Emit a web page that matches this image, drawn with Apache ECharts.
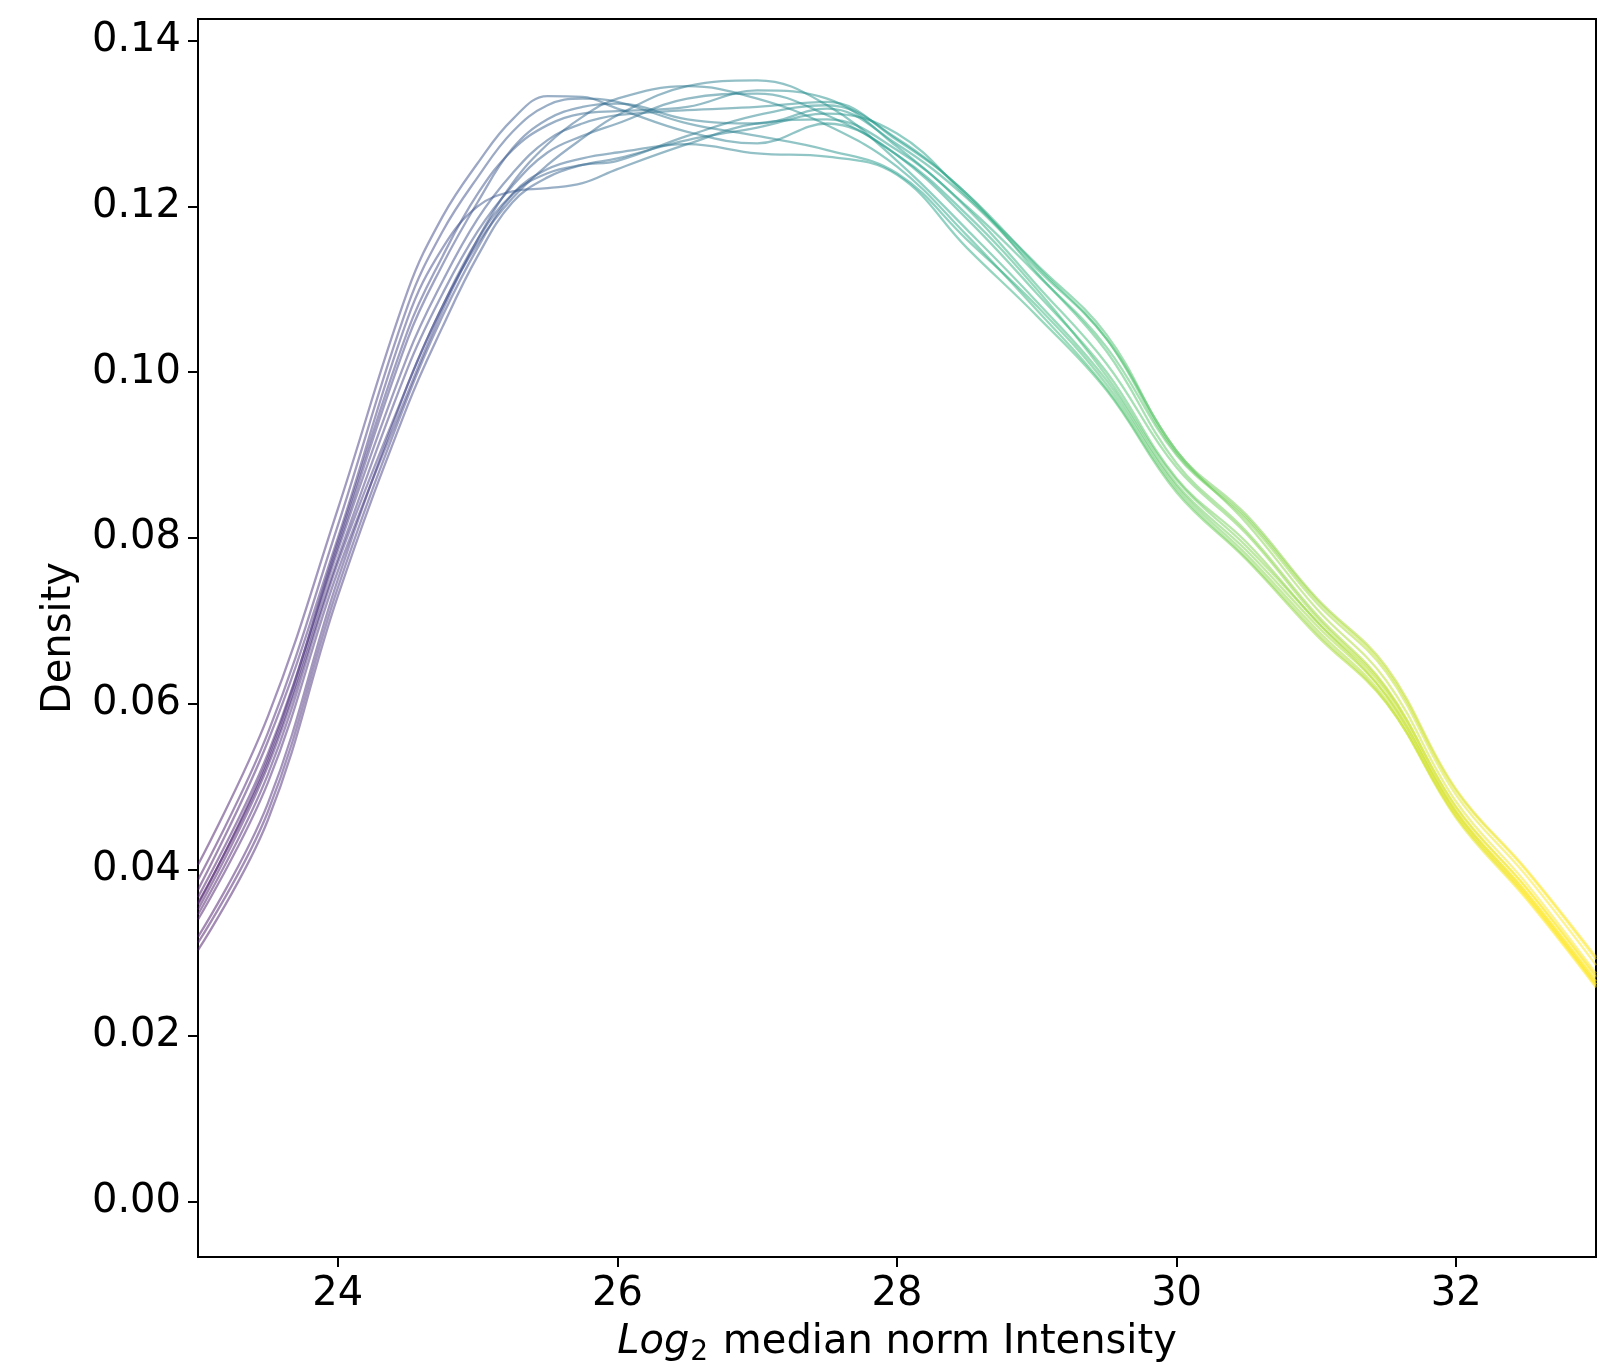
<!DOCTYPE html>
<html>
<head>
<meta charset="utf-8">
<script src="https://cdn.jsdelivr.net/npm/echarts@6/dist/echarts.min.js"></script>
<style>
html,body{margin:0;padding:0;background:#fff;}
#chart{width:1597px;height:1370px;}
</style>
</head>
<body>
<div id="chart"></div>
<script>
// ---- data ----
var xGrid = [23,23.5,24,24.5,24.75,25,25.25,25.5,25.75,26,26.5,27,27.5,28,28.5,29,29.5,30,30.5,31,31.5,32,32.5,33];
var sample01 = [0.0406,0.0585,0.0835,0.1098,0.1188,0.1252,0.1305,0.1333,0.1332,0.1318,0.1290,0.1276,0.1300,0.1262,0.1190,0.1100,0.0995,0.0870,0.0790,0.0700,0.0610,0.0470,0.0373,0.0265];
var sample02 = [0.0388,0.0565,0.0815,0.1080,0.1170,0.1235,0.1290,0.1322,0.1330,0.1326,0.1300,0.1285,0.1268,0.1240,0.1160,0.1080,0.0985,0.0862,0.0780,0.0690,0.0605,0.0465,0.0369,0.0262];
var sample03 = [0.0376,0.0555,0.0800,0.1065,0.1150,0.1200,0.1218,0.1222,0.1228,0.1245,0.1275,0.1300,0.1305,0.1268,0.1200,0.1118,0.1030,0.0900,0.0822,0.0722,0.0638,0.0490,0.0393,0.0285];
var sample04 = [0.0367,0.0540,0.0790,0.1040,0.1130,0.1205,0.1270,0.1305,0.1320,0.1324,0.1305,0.1300,0.1318,0.1275,0.1210,0.1125,0.1040,0.0905,0.0818,0.0715,0.0628,0.0482,0.0384,0.0275];
var sample05 = [0.0360,0.0530,0.0785,0.1020,0.1110,0.1185,0.1240,0.1280,0.1300,0.1310,0.1316,0.1320,0.1326,0.1280,0.1215,0.1120,0.1025,0.0890,0.0808,0.0708,0.0620,0.0475,0.0378,0.0270];
var sample06 = [0.0352,0.0525,0.0775,0.1005,0.1095,0.1170,0.1225,0.1265,0.1285,0.1300,0.1330,0.1336,0.1310,0.1262,0.1185,0.1095,0.1000,0.0872,0.0795,0.0700,0.0615,0.0470,0.0373,0.0266];
var sample07 = [0.0346,0.0515,0.0770,0.0985,0.1080,0.1155,0.1210,0.1250,0.1282,0.1310,0.1345,0.1352,0.1322,0.1255,0.1172,0.1085,0.0990,0.0865,0.0785,0.0695,0.0610,0.0468,0.0370,0.0262];
var sample08 = [0.0340,0.0505,0.0760,0.0975,0.1075,0.1160,0.1228,0.1275,0.1308,0.1330,0.1345,0.1330,0.1298,0.1248,0.1165,0.1075,0.0980,0.0858,0.0776,0.0686,0.0602,0.0462,0.0365,0.0258];
var sample09 = [0.0319,0.0480,0.0750,0.0985,0.1080,0.1160,0.1215,0.1240,0.1250,0.1255,0.1285,0.1310,0.1322,0.1282,0.1215,0.1128,0.1040,0.0902,0.0825,0.0726,0.0642,0.0495,0.0399,0.0292];
var sample10 = [0.0312,0.0470,0.0740,0.0970,0.1068,0.1150,0.1215,0.1245,0.1258,0.1265,0.1275,0.1264,0.1260,0.1238,0.1150,0.1068,0.0978,0.0855,0.0774,0.0683,0.0601,0.0464,0.0367,0.0260];
var sample11 = [0.0303,0.0460,0.0730,0.0960,0.1055,0.1140,0.1205,0.1235,0.1250,0.1258,0.1280,0.1295,0.1312,0.1288,0.1212,0.1130,0.1045,0.0905,0.0828,0.0728,0.0645,0.0497,0.0401,0.0295];
var sample12 = [0.0358,0.0535,0.0795,0.1050,0.1140,0.1215,0.1268,0.1298,0.1312,0.1315,0.1320,0.1340,0.1330,0.1272,0.1198,0.1105,0.1010,0.0885,0.0805,0.0705,0.0618,0.0476,0.0379,0.0272];
var xTicks = [24,26,28,30,32];
var yTicks = [0,0.02,0.04,0.06,0.08,0.10,0.12,0.14];
var xName = '{it|Log}{sub|2} median norm Intensity';
var yName = 'Density';

var samples = [sample01,sample02,sample03,sample04,sample05,sample06,sample07,sample08,sample09,sample10,sample11,sample12];
var viridis = ['#440154','#482878','#3e4989','#31688e','#26828e','#1f9e89','#35b779','#6ece58','#b5de2b','#fde725'];

var FONT = 'DejaVu Sans';
var FS = 40;

var series = samples.map(function(s){
  return {
    type:'line',
    data: xGrid.map(function(x,i){return [x, s[i]];}),
    smooth: 0.4,
    showSymbol:false,
    symbol:'none',
    lineStyle:{width:2.3, opacity:0.5},
    silent:true,
    animation:false
  };
});

var chart = echarts.init(document.getElementById('chart'), null, {renderer:'canvas'});
chart.setOption({
  animation:false,
  backgroundColor:'#ffffff',
  grid:{left:198, right:1, top:19, bottom:113, containLabel:false, outerBoundsMode:'none',
        show:true, borderColor:'#000', borderWidth:2, backgroundColor:'transparent'},
  visualMap:{show:false, type:'continuous', dimension:0, min:22.5, max:32.5, inRange:{color:viridis}},
  xAxis:{
    type:'value', min:23, max:33,
    axisLine:{show:true, onZero:false, lineStyle:{color:'#000', width:2}},
    axisTick:{show:true, length:10, lineStyle:{color:'#000', width:2}, customValues:xTicks},
    axisLabel:{show:true, margin:18, color:'#000', fontFamily:FONT, fontSize:FS, customValues:xTicks},
    splitLine:{show:false},
    name:xName, nameLocation:'middle', nameGap:62,
    nameTextStyle:{color:'#000', fontFamily:FONT, fontSize:FS,
      rich:{
        it:{fontStyle:'italic', fontFamily:FONT, fontSize:FS, color:'#000'},
        sub:{fontFamily:FONT, fontSize:28, color:'#000', padding:[20,2,0,1]}
      }}
  },
  yAxis:{
    type:'value', min:-0.0067, max:0.1426,
    axisLine:{show:true, onZero:false, lineStyle:{color:'#000', width:2}},
    axisTick:{show:true, length:10, lineStyle:{color:'#000', width:2}, customValues:yTicks},
    axisLabel:{show:true, margin:17, color:'#000', fontFamily:FONT, fontSize:FS, customValues:yTicks,
      formatter:function(v){return v.toFixed(2);}},
    splitLine:{show:false},
    name:yName, nameLocation:'middle', nameGap:118,
    nameTextStyle:{color:'#000', fontFamily:FONT, fontSize:FS}
  },
  series:series
});
</script>
</body>
</html>
